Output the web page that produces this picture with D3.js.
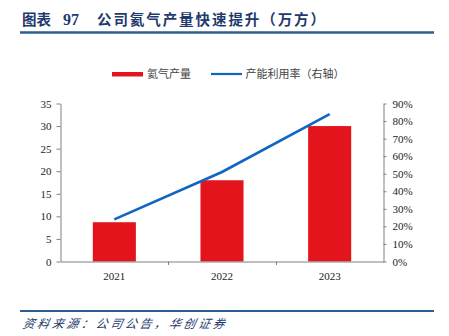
<!DOCTYPE html>
<html><head><meta charset="utf-8">
<script src="https://cdn.jsdelivr.net/npm/d3@7"></script>
<style>
html,body{margin:0;padding:0;background:#fff;}
svg{display:block;}
</style></head>
<body>
<script>
const categories = ["2021", "2022", "2023"];
const heliumOutput = [8.7, 18, 30];
const utilization = [0.24, 0.51, 0.84];
const leftTicks = [0, 5, 10, 15, 20, 25, 30, 35];
const rightTicks = [0, 0.1, 0.2, 0.3, 0.4, 0.5, 0.6, 0.7, 0.8, 0.9];
const seriesNames = ["氦气产量", "产能利用率（右轴）"];

const W = 449, H = 336;
const svg = d3.select("body").append("svg").attr("width", W).attr("height", H);

const navy = "#1F3A6E";
const serif = "'Liberation Serif','Times New Roman',serif";
const cjk = "'Noto Sans CJK SC','Noto Sans',sans-serif";

// Title
svg.append("text").attr("x", 22).attr("y", 25).attr("font-family", cjk).attr("font-weight", "bold")
  .attr("font-size", 14.5).attr("fill", navy).attr("textLength", 29).attr("lengthAdjust", "spacing").text("图表");
svg.append("text").attr("x", 63).attr("y", 25).attr("font-family", serif).attr("font-weight", "bold")
  .attr("font-size", 16).attr("fill", navy).text("97");
svg.append("text").attr("x", 97).attr("y", 25).attr("font-family", cjk).attr("font-weight", "bold")
  .attr("font-size", 14.5).attr("fill", navy).attr("textLength", 228).attr("lengthAdjust", "spacing")
  .text("公司氦气产量快速提升（万方）");
svg.append("line").attr("x1", 20).attr("x2", 434).attr("y1", 32.5).attr("y2", 32.5)
  .attr("stroke", "#2E5D92").attr("stroke-width", 2.5);

// Footer
svg.append("line").attr("x1", 20).attr("x2", 434).attr("y1", 311).attr("y2", 311)
  .attr("stroke", "#2E5D92").attr("stroke-width", 2);
svg.append("text").attr("x", 22).attr("y", 328).attr("font-family", cjk).attr("font-style", "italic")
  .attr("font-size", 12).attr("fill", navy).attr("textLength", 202).attr("lengthAdjust", "spacing")
  .attr("transform", "skewX(-12) translate(69.7,0)")
  .text("资料来源：公司公告，华创证券");

// Scales
const x = d3.scaleBand().domain(categories).range([60.5, 383.5]).padding(0);
const yL = d3.scaleLinear().domain([0, 35]).range([261.5, 103.5]);
const yR = d3.scaleLinear().domain([0, 0.9]).range([261.5, 103.5]);

const barColor = "#E3141C";
const lineColor = "#0F66C0";
const axisColor = "#808080";

// Bars
const bw = x.bandwidth() * 0.4;
svg.append("g").selectAll("rect").data(heliumOutput).join("rect")
  .attr("x", (d, i) => x(categories[i]) + (x.bandwidth() - bw) / 2)
  .attr("y", d => yL(d))
  .attr("width", bw)
  .attr("height", d => yL(0) - yL(d))
  .attr("fill", barColor);

// Axes
const gL = svg.append("g").attr("transform", "translate(60.5,0)")
  .call(d3.axisLeft(yL).tickValues(leftTicks).tickSize(4).tickSizeOuter(0).tickFormat(d3.format("d")));
const gR = svg.append("g").attr("transform", "translate(383.5,0)")
  .call(d3.axisRight(yR).tickValues(rightTicks).tickSize(3).tickSizeOuter(0).tickFormat(d3.format(".0%")));
const gX = svg.append("g").attr("transform", "translate(0,261.5)")
  .call(d3.axisBottom(x).tickSize(0).tickSizeOuter(0));
// band boundary ticks
svg.append("g").selectAll("line").data(categories.slice(1)).join("line")
  .attr("x1", d => Math.round(x(d)) + 0.5).attr("x2", d => Math.round(x(d)) + 0.5)
  .attr("y1", 261.5).attr("y2", 265).attr("stroke", axisColor);

[gL, gR, gX].forEach(g => {
  g.selectAll(".domain").attr("stroke", axisColor);
  g.selectAll(".tick line").attr("stroke", axisColor);
  g.selectAll("text").attr("font-family", serif).attr("font-size", 11).attr("fill", "#222");
});
gL.selectAll("text").attr("x", -9);
gR.selectAll("text").attr("x", 9);
gX.selectAll("text").attr("dy", "0").attr("y", 280);
gX.selectAll("text").attr("transform", "translate(0,-261.5)");

// Line
const line = d3.line().x((d, i) => x(categories[i]) + x.bandwidth() / 2).y(d => yR(d));
svg.append("path").datum(utilization).attr("d", line).attr("fill", "none")
  .attr("stroke", lineColor).attr("stroke-width", 2.6);

// Legend
const lg = svg.append("g");
lg.append("rect").attr("x", 112).attr("y", 72).attr("width", 31).attr("height", 4.5).attr("fill", barColor);
lg.append("text").attr("x", 147).attr("y", 78).attr("font-family", cjk).attr("font-size", 11)
  .attr("fill", "#444").text(seriesNames[0]);
lg.append("line").attr("x1", 211).attr("x2", 242).attr("y1", 74).attr("y2", 74)
  .attr("stroke", lineColor).attr("stroke-width", 2.2);
lg.append("text").attr("x", 245.5).attr("y", 78).attr("font-family", cjk).attr("font-size", 11)
  .attr("fill", "#444").text(seriesNames[1]);
</script>
</body></html>
